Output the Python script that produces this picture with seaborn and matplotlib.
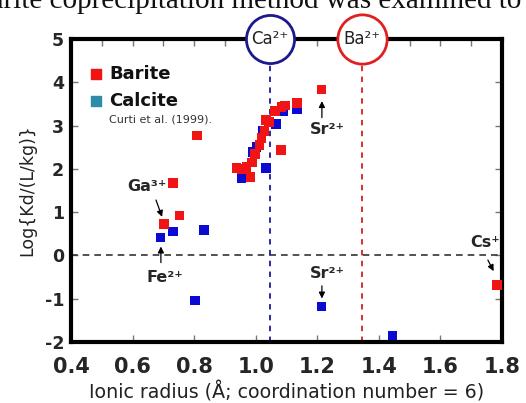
import numpy as np
import pandas as pd
import matplotlib
matplotlib.use("Agg")
import matplotlib.pyplot as plt
import seaborn as sns
from matplotlib.ticker import MultipleLocator

# ---- data ----
barite_x = [0.703, 0.732, 0.752, 0.81, 0.938, 0.954, 0.97, 0.983, 0.987, 0.997, 1.012,
            1.019, 1.028, 1.033, 1.044, 1.062, 1.082, 1.084, 1.095, 1.135, 1.214, 1.784]
barite_y = [0.72, 1.67, 0.92, 2.77, 2.02, 2.0, 2.04, 1.81, 2.15, 2.35, 2.55,
            2.71, 2.87, 3.13, 3.08, 3.33, 2.44, 3.43, 3.46, 3.52, 3.83, -0.68]
calcite_x = [0.691, 0.732, 0.833, 0.803, 0.954, 0.99, 1.003, 1.024, 1.033, 1.065,
             1.089, 1.135, 1.214, 1.444]
calcite_y = [0.41, 0.55, 0.59, -1.04, 1.79, 2.39, 2.50, 2.89, 2.02, 3.03,
             3.33, 3.37, -1.18, -1.85]
ca_radius = 1.045
ba_radius = 1.345
x_ticks = [0.4, 0.6, 0.8, 1.0, 1.2, 1.4, 1.6, 1.8]
y_ticks = [-2, -1, 0, 1, 2, 3, 4, 5]

df = pd.DataFrame({
    "radius": calcite_x + barite_x,
    "logkd": calcite_y + barite_y,
    "mineral": ["Calcite"] * len(calcite_x) + ["Barite"] * len(barite_x),
})

sns.set_theme(style="white")
plt.rcParams["font.family"] = ["DejaVu Sans"]

fig = plt.figure(figsize=(5.26, 4.03), dpi=100)
ax = fig.add_axes([71 / 526, 1 - 342 / 403, (502 - 71) / 526, (342 - 39) / 403])

sns.scatterplot(data=df, x="radius", y="logkd", hue="mineral",
                palette={"Barite": "#f01414", "Calcite": "#0a0ad2"},
                marker="s", s=48, linewidth=0, legend=False, ax=ax, zorder=4)

ax.set_xlim(0.4, 1.8)
ax.set_ylim(-2, 5)
ax.set_xticks(x_ticks)
ax.set_xticklabels([f"{v:.1f}" for v in x_ticks], fontsize=15, fontweight="bold")
ax.set_yticks(y_ticks)
ax.set_yticklabels([str(v) for v in y_ticks], fontsize=12.5, fontweight="bold")
ax.xaxis.set_minor_locator(MultipleLocator(0.1))
ax.tick_params(axis="both", which="major", direction="in", length=5, width=1,
               color="#777777", top=True, right=True, bottom=True, left=True, pad=5)
ax.tick_params(axis="x", which="major", pad=11)
ax.tick_params(axis="x", which="minor", direction="in", length=5, width=1,
               color="#777777", top=True, bottom=False)
for sp in ax.spines.values():
    sp.set_linewidth(3)
    sp.set_color("black")

ax.set_xlabel("Ionic radius (Å; coordination number = 6)", fontsize=13.7,
              color="#222222", labelpad=3)
ax.set_ylabel("Log{Kd/(L/kg)}", fontsize=12.5, color="#222222", labelpad=6)

# reference lines
ax.axhline(0, color="#333333", ls=(0, (4, 3)), lw=1.2, zorder=2)
ax.axvline(ca_radius, color="#1a1a9a", ls=(0, (3, 3)), lw=1.3, zorder=2)
ax.axvline(ba_radius, color="#d42020", ls=(0, (3, 3)), lw=1.3, zorder=2)

# circles on top border
ax.scatter([ca_radius], [5], s=1200, marker="o", facecolor="white",
           edgecolor="#1a1a8c", linewidth=2, clip_on=False, zorder=10)
ax.scatter([ba_radius], [5], s=1260, marker="o", facecolor="white",
           edgecolor="#e02020", linewidth=2, clip_on=False, zorder=10)
ax.text(ca_radius, 5, "Ca²⁺", ha="center", va="center", fontsize=12,
        color="#222222", zorder=11, clip_on=False)
ax.text(ba_radius, 5, "Ba²⁺", ha="center", va="center", fontsize=12,
        color="#222222", zorder=11, clip_on=False)

# custom legend
ax.scatter([0.48], [4.2], marker="s", s=60, color="#f01414", clip_on=False, zorder=5)
ax.scatter([0.48], [3.57], marker="s", s=60, color="#2f8ca8", clip_on=False, zorder=5)
ax.text(0.525, 4.2, "Barite", fontsize=13, fontweight="bold", va="center", color="#111111")
ax.text(0.525, 3.57, "Calcite", fontsize=13, fontweight="bold", va="center", color="#111111")
ax.text(0.525, 3.15, "Curti et al. (1999).", fontsize=8, va="center", color="#333333")

# annotations
arrow = dict(arrowstyle="-|>", color="black", lw=0.9, mutation_scale=9)
ax.text(0.647, 1.59, "Ga³⁺", fontsize=11.5, fontweight="bold", ha="center", va="center")
ax.annotate("", xy=(0.699, 0.83), xytext=(0.673, 1.34), arrowprops=arrow)
ax.text(0.705, -0.51, "Fe²⁺", fontsize=11.5, fontweight="bold", ha="center", va="center")
ax.annotate("", xy=(0.692, 0.27), xytext=(0.692, -0.23), arrowprops=arrow)
ax.text(1.234, 2.91, "Sr²⁺", fontsize=11.5, fontweight="bold", ha="center", va="center")
ax.annotate("", xy=(1.215, 3.63), xytext=(1.215, 3.12), arrowprops=arrow)
ax.text(1.234, -0.42, "Sr²⁺", fontsize=11.5, fontweight="bold", ha="center", va="center")
ax.annotate("", xy=(1.215, -1.06), xytext=(1.215, -0.64), arrowprops=arrow)
ax.text(1.744, 0.30, "Cs⁺", fontsize=11.5, fontweight="bold", ha="center", va="center")
ax.annotate("", xy=(1.777, -0.42), xytext=(1.75, -0.05), arrowprops=arrow)

# cropped document text at top (only its lower part is visible)
fig.text(-0.045, 1 - 7.5 / 403, "barite coprecipitation method was examined to",
         fontsize=21, family="Liberation Serif", va="baseline", ha="left", color="#111111")

fig.savefig("out.png", dpi=100)
